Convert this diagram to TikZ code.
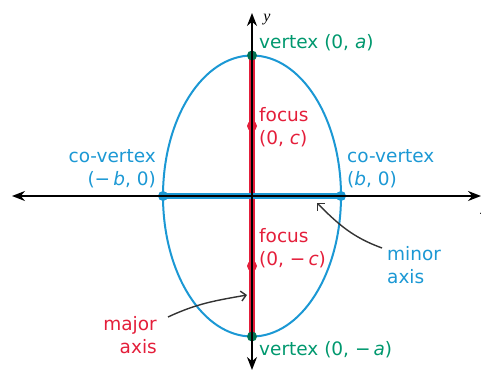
\documentclass[tikz,border=0pt]{standalone}
\usepackage{fontspec}
\setmainfont{DejaVu Sans}
\newfontfamily\axisfont{Liberation Serif}
\usetikzlibrary{arrows.meta}
\definecolor{vertgreen}{RGB}{0,152,110}
\definecolor{axisblue}{RGB}{27,152,212}
\definecolor{focusred}{RGB}{228,30,58}
\begin{document}
\begin{tikzpicture}[x=1pt, y=1pt,
  lbl/.style={inner sep=0pt, font=\fontsize{18.5}{23}\selectfont},
  axis/.style={line width=1.6pt, {Stealth[length=13pt,width=10pt]}-{Stealth[length=13pt,width=10pt]}},
  pointer/.style={line width=1.4pt, black!80, -{Straight Barb[length=5pt,width=10pt]}},
  dot/.style={circle, inner sep=0pt, minimum size=10pt}]
\useasboundingbox (-252,-175) rectangle (229,196);
% axes and ellipse
\coordinate (xl) at (-240,0);
\coordinate (xr) at (229,0);
\coordinate (yb) at (0,-174);
\coordinate (yt) at (0,183);
\draw[axisblue, line width=2pt] (0,0) ellipse (89 and 140.5);
\draw[focusred, line width=6pt] (0,140.5) -- (0,-140.5);
\draw[axisblue, line width=6pt] (-89,0) -- (89,0);
\node[dot, fill=vertgreen!75!black] (v1) at (0,140.5) {};
\node[dot, fill=vertgreen!75!black] (v2) at (0,-140.5) {};
\node[dot, fill=axisblue] (cv1) at (-89,0) {};
\node[dot, fill=axisblue] (cv2) at (89,0) {};
\node[dot, fill=focusred] (f1) at (0,70) {};
\node[dot, fill=focusred] (f2) at (0,-70) {};
\draw[axis] (xl) -- (xr);
\draw[axis] (yb) -- (yt);
\node[font=\axisfont\itshape\fontsize{16}{16}\selectfont] (ylab) at (15,176) {y};
\node[font=\axisfont\itshape\fontsize{16}{16}\selectfont] (xlab) at (232,-15) {x};
% labels
\node[lbl, text=vertgreen, anchor=base west] (vtop) at (7,147) {vertex (0, \textit{a})};
\node[lbl, text=focusred, align=left, anchor=north west] (fup) at (7,89) {focus\\(0, \textit{c})};
\node[lbl, text=axisblue, align=right, anchor=north east] (cvleft) at (-96,47) {co-vertex\\(−\,\textit{b}, 0)};
\node[lbl, text=axisblue, align=left, anchor=north west] (cvright) at (95,47) {co-vertex\\(\textit{b}, 0)};
\node[lbl, text=focusred, align=left, anchor=north west] (flow) at (7,-32) {focus\\(0, −\,\textit{c})};
\node[lbl, text=axisblue, align=left, anchor=north west] (minor) at (135,-50) {minor\\axis};
\node[lbl, text=focusred, align=right, anchor=north east] (major) at (-95,-120) {major\\axis};
\node[lbl, text=vertgreen, anchor=base west] (vbot) at (7,-159) {vertex (0, −\,\textit{a})};
% pointers
\coordinate (minhead) at (65,-7);
\coordinate (majhead) at (-5,-99);
\draw[pointer] ([shift={(-5,-2)}]minor.north west) to[out=160, in=-45] (minhead);
\draw[pointer] ([shift={(11,-1)}]major.north east) to[out=25, in=190] (majhead);
\end{tikzpicture}
\end{document}
